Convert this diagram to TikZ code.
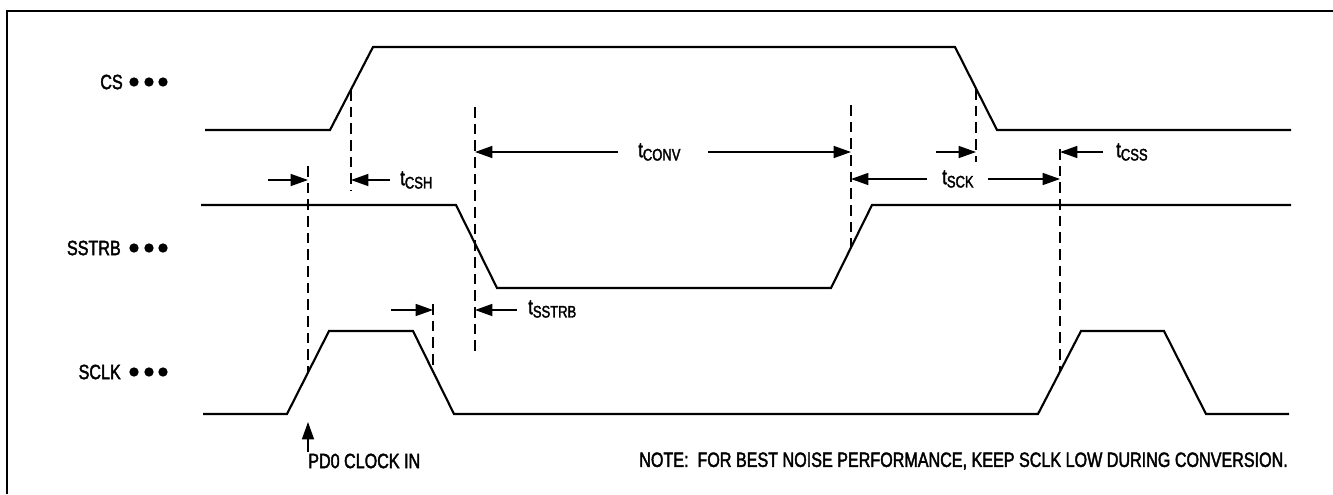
\documentclass[tikz,border=0pt]{standalone}
\usepackage{fontspec}
\setmainfont[FakeStretch=0.78,FakeBold=2]{Liberation Sans}
\usetikzlibrary{arrows.meta}
\newcommand\tmlabel[1]{{\fontsize{16}{18}\selectfont t}\raisebox{-2.5pt}{\fontsize{12.5}{14}\selectfont #1}}
\begin{document}
\begin{tikzpicture}[x=0.75pt,y=-0.75pt,
  sig/.style={line width=1.6pt,line join=miter},
  guide/.style={line width=1.3pt,dash pattern=on 8pt off 4.5pt},
  dim/.style={line width=1.1pt,-{Triangle[length=13pt,width=9pt]}},
  lbl/.style={inner sep=0pt,font=\fontsize{15.5}{17}\selectfont},
  tlbl/.style={inner sep=0pt,anchor=west},
  dotn/.style={circle,fill,inner sep=0pt,minimum size=7pt}]
\useasboundingbox (0,0) rectangle (1333,494);
% frame
\draw[line width=0.8pt] (7,494) -- (7,11) -- (1333,11);
% signal labels
\node[lbl,anchor=east] (cs) at (123,82) {CS};
\node[lbl,anchor=east] (sstrb) at (121,248) {SSTRB};
\node[lbl,anchor=east] (sclk) at (121,372) {SCLK};
\foreach \y/\n in {82/a,248/b,372/c}{
  \node[dotn] (d1\n) at (134,\y) {};
  \node[dotn] (d2\n) at (149,\y) {};
  \node[dotn] (d3\n) at (163,\y) {};
}
% waveforms
\draw[sig] (205,130) -- (330,130) -- (373,47) -- (955,47) -- (997,130) -- (1291,130);
\draw[sig] (201,205) -- (456,205) -- (497,288) -- (831,288) -- (872,205) -- (1291,205);
\draw[sig] (203,414) -- (287,414) -- (329,331) -- (413,331) -- (454,414) -- (1038,414)
  -- (1081,331) -- (1164,331) -- (1206,414) -- (1289,414);
% guide line endpoints
\coordinate (g1t) at (308,166); \coordinate (g1b) at (308,372);
\coordinate (g2t) at (351,90);  \coordinate (g2b) at (351,191);
\coordinate (g3t) at (475,107); \coordinate (g3b) at (475,352);
\coordinate (g4t) at (851,105); \coordinate (g4b) at (851,247);
\coordinate (g5t) at (976,89);  \coordinate (g5b) at (976,162);
\coordinate (g6t) at (1060,149);\coordinate (g6b) at (1060,372);
\coordinate (g7t) at (433,304); \coordinate (g7b) at (433,372);
\foreach \g in {1,...,7}{\draw[guide] (g\g t) -- (g\g b);}
% dimension arrows
\coordinate (a1) at (268,180); \coordinate (a1e) at (308,180);
\coordinate (a2) at (390,180); \coordinate (a2e) at (351,180);
\coordinate (a3) at (618,152); \coordinate (a3e) at (475,152);
\coordinate (a4) at (708,152); \coordinate (a4e) at (851,152);
\coordinate (a5) at (927,179); \coordinate (a5e) at (851,179);
\coordinate (a6) at (988,179); \coordinate (a6e) at (1060,179);
\coordinate (a7) at (936,152); \coordinate (a7e) at (976,152);
\coordinate (a8) at (1103,152);\coordinate (a8e) at (1060,152);
\coordinate (a9) at (391,310); \coordinate (a9e) at (433,310);
\coordinate (a10) at (517,310);\coordinate (a10e) at (475,310);
\coordinate (a11) at (308,452);\coordinate (a11e) at (308,422);
\foreach \a in {1,...,11}{\draw[dim] (a\a) -- (a\a e);}
% timing labels
\node[tlbl] (tcsh) at (400,180) {\tmlabel{CSH}};
\node[tlbl] (tconv) at (638,152) {\tmlabel{CONV}};
\node[tlbl] (tsck) at (942,179) {\tmlabel{SCK}};
\node[tlbl] (tcss) at (1116,152) {\tmlabel{CSS}};
\node[tlbl] (tsstrb) at (528,309) {\tmlabel{SSTRB}};
% bottom texts
\node[lbl,anchor=west] (pd0) at (308,461) {PD0 CLOCK IN};
\node[lbl,anchor=west] (note) at (639,461) {NOTE:\ \ FOR BEST NOISE PERFORMANCE, KEEP SCLK LOW DURING CONVERSION.};
\end{tikzpicture}
\end{document}
